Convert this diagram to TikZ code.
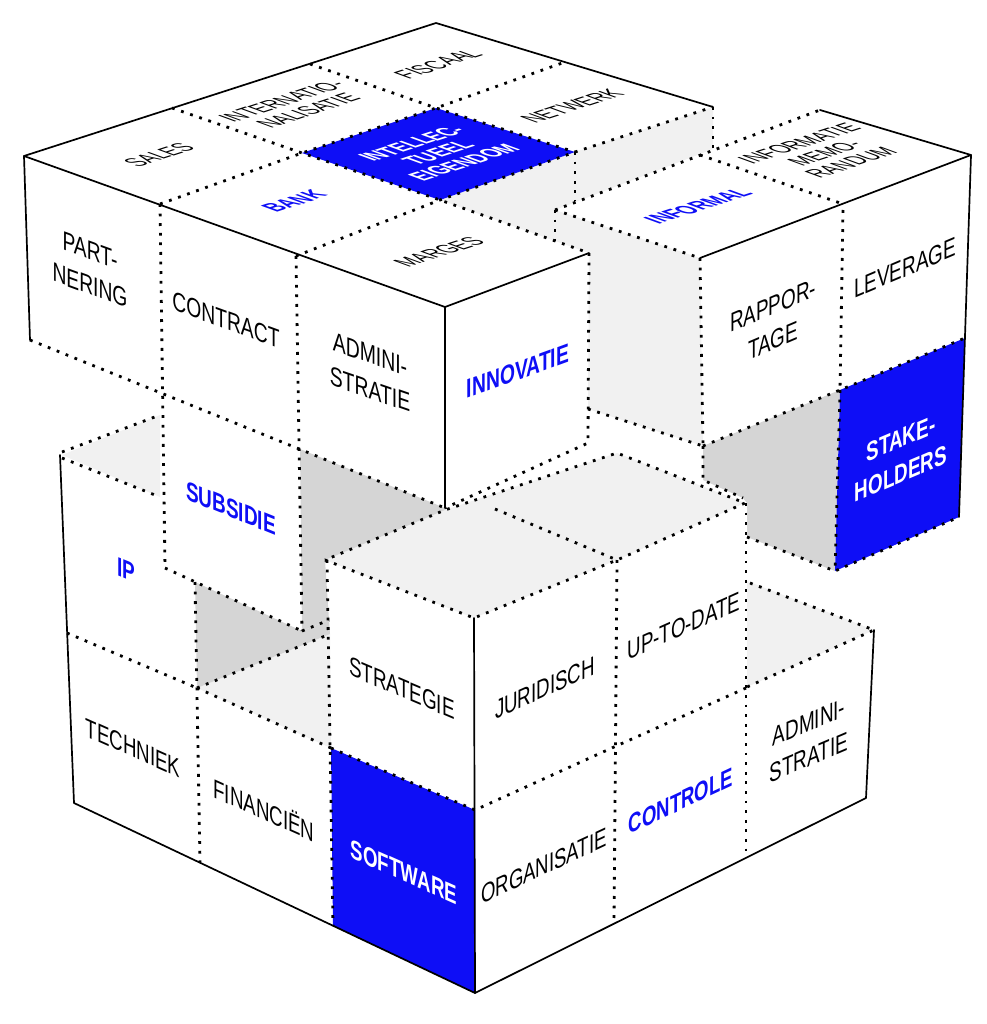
\documentclass[tikz,border=0pt]{standalone}
\usepackage{fontspec}
\setmainfont{Liberation Sans}
\definecolor{myblue}{RGB}{14,14,246}
\definecolor{lgray}{RGB}{241,241,241}
\definecolor{mgray}{RGB}{213,213,213}
\tikzset{
 dots/.style={line width=2.8pt, dash pattern=on 2.8pt off 6.8pt},
 edge/.style={line width=1.7pt, line join=round, line cap=round},
 lab/.style={inner sep=0pt, align=center, transform shape, font=\fontsize{20.5}{27}\selectfont},
 blab/.style={lab, text=myblue, font=\bfseries\fontsize{20.5}{27}\selectfont},
 wlab/.style={lab, text=white, font=\bfseries\fontsize{20.5}{27}\selectfont},
 tlab/.style={lab, font=\fontsize{19}{20.5}\selectfont},
 tblab/.style={lab, text=myblue, font=\bfseries\fontsize{19}{20.5}\selectfont},
 twlab/.style={lab, text=white, font=\bfseries\fontsize{19}{20.5}\selectfont},
 Lnineteen/.style={cm={0.946,-0.326,0,1.3,(0,0)}},
 Ltwenty/.style={cm={0.940,-0.342,0,1.3,(0,0)}},
 Ltwentytwo/.style={cm={0.927,-0.375,0,1.3,(0,0)}},
 Ltwentythree/.style={cm={0.921,-0.391,0,1.3,(0,0)}},
 Ltwentyfour/.style={cm={0.914,-0.407,0,1.3,(0,0)}},
 Rtwenty/.style={cm={0.940,0.342,0,1.3,(0,0)}},
 Rtwentythree/.style={cm={0.921,0.391,0,1.3,(0,0)}},
 Rtwentyfour/.style={cm={0.914,0.407,0,1.3,(0,0)}},
 Rtwentyfive/.style={cm={0.906,0.423,0,1.3,(0,0)}},
 Ttop/.style={cm={0.951,0.309,-1.269,0.462,(0,0)}},
}
\newcommand\lbl[5]{\begin{scope}[shift={(#1,#2)}]\node[#3] (#4) at (0,0) {#5};\end{scope}}
\begin{document}
\begin{tikzpicture}[x=1pt,y=-1pt]
\useasboundingbox (0,0) rectangle (986,1024);
% ---------- fills ----------
\fill[lgray] (440,200) -- (575,152) -- (713,107) -- (713,149) -- (555,210) -- (700,258) -- (703,446) -- (588,409) -- (589,253) -- cycle;
\fill[lgray] (62,455) -- (160,415) -- (160,497) -- cycle;
\fill[lgray] (197,688) -- (330,634) -- (331,748) -- cycle;
\fill[lgray] (325,560) -- (445,510) -- (617,453) -- (745,503) -- (617,560) -- (474,618) -- cycle;
\fill[lgray] (747,581) -- (874,630) -- (747,687) -- cycle;
\fill[mgray] (300,449) -- (445,508) -- (445,510) -- (325,560) -- (329,620) -- (302,631) -- cycle;
\fill[mgray] (195,582) -- (302,631) -- (329,620) -- (330,634) -- (197,688) -- cycle;
\fill[mgray] (703,446) -- (840,390) -- (835,571) -- (747,537) -- (747,503) -- (743,498) -- (703,480) -- cycle;
\fill[myblue] (302,153) -- (436,108) -- (575,152) -- (440,200) -- cycle;
\fill[myblue] (840,390) -- (965,338) -- (959,517) -- (835,571) -- cycle;
\fill[myblue] (331,748) -- (475,810) -- (475,993) -- (333,926) -- cycle;
% ---------- dotted cell lines ----------
\draw[dots] (160,204) -- (302,153) -- (436,108) -- (565,62);
\draw[dots] (296,256) -- (440,200) -- (575,152) -- (713,107);
\draw[dots] (172,108) -- (302,153) -- (440,200) -- (589,253);
\draw[dots] (310,64) -- (436,108) -- (575,152);
\draw[dots] (160,204) -- (165,568);
\draw[dots] (296,256) -- (302,631);
\draw[dots] (30,340) -- (445,508);
\draw[dots] (589,253) -- (588,443) -- (445,508);
\draw[dots] (575,152) -- (575,201);
\draw[dots] (713,107) -- (713,149);
\draw[dots] (555,210) -- (820,110);
\draw[dots] (555,210) -- (555,241);
\draw[dots] (555,210) -- (700,258);
\draw[dots] (700,258) -- (703,446);
\draw[dots] (588,409) -- (703,446);
\draw[dots] (700,155) -- (843,204);
\draw[dots] (843,210) -- (840,390);
\draw[dots] (703,446) -- (840,390) -- (965,338);
\draw[dots] (840,390) -- (835,571) -- (959,517);
\draw[dots] (703,446) -- (703,480) -- (743,498);
\draw[dots] (747,537) -- (835,571);
\draw[dots] (165,568) -- (302,631);
\draw[dots] (62,452) -- (160,415);
\draw[dots] (62,458) -- (160,497);
\draw[dots] (67,633) -- (197,688);
\draw[dots] (195,582) -- (200,862);
\draw[dots] (197,688) -- (330,634);
\draw[dots] (197,688) -- (331,748);
\draw[dots] (327,560) -- (333,926);
\draw[dots] (302,631) -- (329,620);
\draw[dots] (325,560) -- (474,618) -- (617,560) -- (745,503) -- (617,453) -- (445,510) -- (325,560);
\draw[dots] (495,509) -- (617,560);
\draw[dots] (331,748) -- (475,810) -- (614,747) -- (746,688);
\draw[dots] (617,560) -- (614,923);
\draw[dots] (746,503) -- (746,858);
\draw[dots] (750,583) -- (874,630) -- (747,687);
% ---------- solid outline ----------
\draw[edge] (30,340) -- (24,156) -- (436,23) -- (713,107);
\draw[edge] (24,156) -- (445,307) -- (589,253);
\draw[edge] (445,307) -- (445,508);
\draw[edge] (820,110) -- (971,155) -- (959,517);
\draw[edge] (700,258) -- (971,155);
\draw[edge] (60,455) -- (74,803) -- (475,993) -- (866,798) -- (874,630);
\draw[edge] (474,618) -- (475,993);
% ---------- labels: top faces ----------
\lbl{159}{155}{tlab,Ttop}{sales}{SALES}
\lbl{295}{106}{tlab,Ttop}{intern}{INTERNATIO-\\NALISATIE}
\lbl{438}{64}{tlab,Ttop}{fiscaal}{FISCAAL}
\lbl{294}{201}{tblab,Ttop}{bank}{BANK}
\lbl{438}{153}{twlab,Ttop}{ie}{INTELLEC-\\TUEEL\\EIGENDOM}
\lbl{572}{106}{tlab,Ttop}{netwerk}{NETWERK}
\lbl{439}{252}{tlab,Ttop}{marges}{MARGES}
\lbl{698}{206}{tblab,Ttop}{informal}{INFORMAL}
\lbl{825}{153}{tlab,Ttop}{infomemo}{INFORMATIE\\MEMO-\\RANDUM}
% ---------- labels: left faces ----------
\lbl{90}{268}{lab,Ltwenty}{partnering}{PART-\\NERING}
\lbl{226}{320}{lab,Ltwenty}{contract}{CONTRACT}
\lbl{370}{372}{lab,Lnineteen}{admintop}{ADMINI-\\STRATIE}
\lbl{231}{508}{blab,Ltwentytwo}{subsidie}{SUBSIDIE}
\lbl{126}{570}{blab,Ltwentytwo}{ip}{IP}
\lbl{133}{748}{lab,Ltwentyfour}{techniek}{TECHNIEK}
\lbl{264}{809}{lab,Ltwentyfour}{financien}{FINANCIËN}
\lbl{404}{872}{wlab,Ltwentyfour}{software}{SOFTWARE}
\lbl{402}{688}{lab,Ltwentythree}{strategie}{STRATEGIE}
% ---------- labels: right faces ----------
\lbl{518}{371}{blab,Rtwenty}{innovatie}{INNOVATIE}
\lbl{773}{323}{lab,Rtwentythree}{rapportage}{RAPPOR-\\TAGE}
\lbl{905}{268}{lab,Rtwentythree}{leverage}{LEVERAGE}
\lbl{901}{456}{wlab,Rtwentythree}{stakeholders}{STAKE-\\HOLDERS}
\lbl{545}{688}{lab,Rtwentyfour}{juridisch}{JURIDISCH}
\lbl{684}{626}{lab,Rtwentyfour}{uptodate}{UP-TO-DATE}
\lbl{544}{866}{lab,Rtwentyfive}{organisatie}{ORGANISATIE}
\lbl{681}{801}{blab,Rtwentyfive}{controle}{CONTROLE}
\lbl{809}{740}{lab,Rtwentythree}{adminbottom}{ADMINI-\\STRATIE}
\end{tikzpicture}
\end{document}
